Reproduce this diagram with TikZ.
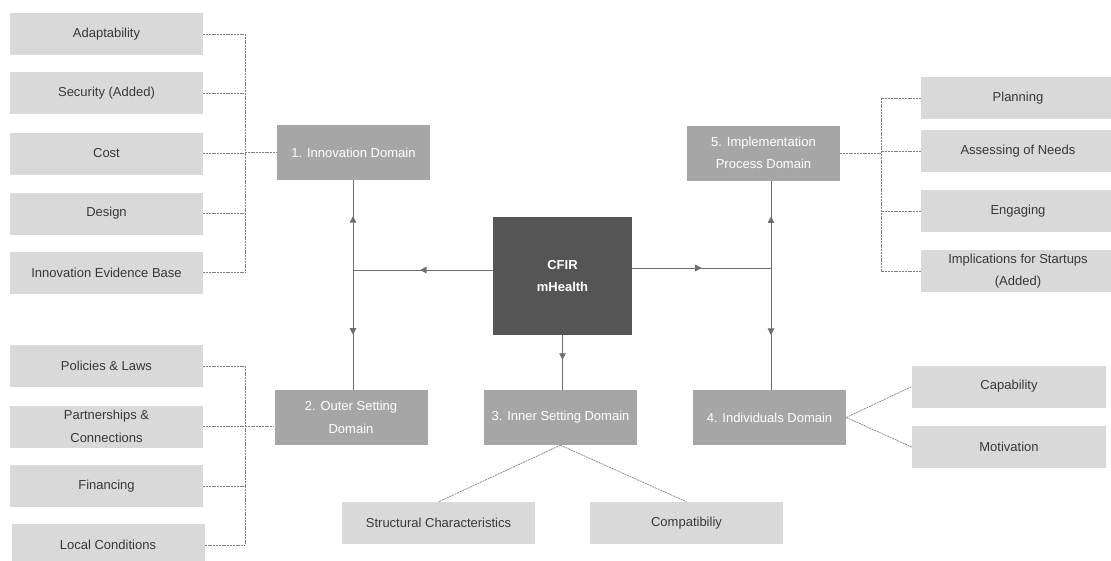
\documentclass[tikz,border=0pt]{standalone}
\usepackage{fontspec}
\setmainfont{Liberation Sans}
\usetikzlibrary{arrows.meta,decorations.markings}
\definecolor{leaffill}{HTML}{D9D9D9}
\definecolor{domfill}{HTML}{A6A6A6}
\definecolor{corefill}{HTML}{555555}
\definecolor{leaftext}{HTML}{383838}
\definecolor{linecol}{HTML}{6E6E6E}
\definecolor{dashcol}{HTML}{7F7F7F}
\tikzset{
  x=1pt, y=-1pt,
  leaf/.style={fill=leaffill, draw=none, inner sep=0pt, minimum width=193pt, minimum height=42pt,
    text=leaftext, font=\fontsize{13}{22.5}\selectfont, align=center},
  rleaf/.style={leaf, minimum width=194pt},
  dombox/.style={fill=domfill, draw=none, inner sep=0pt, minimum width=153pt, minimum height=55pt,
    text=white, font=\fontsize{13}{22.5}\selectfont, align=center},
  corebox/.style={fill=corefill, draw=none, inner sep=0pt, minimum width=139pt, minimum height=118pt,
    text=white, font=\bfseries\fontsize{13}{22.5}\selectfont, align=center},
  conn/.style={draw=linecol, line width=0.9pt},
  dotline/.style={draw=dashcol, line width=0.7pt, dash pattern=on 2pt off 0.8pt},
  tipat/.style={postaction={decorate, decoration={markings,
    mark=at position #1 with {\arrow{Triangle[length=6.5pt,width=6.5pt]}}}}},
}
\begin{document}
\begin{tikzpicture}
\useasboundingbox (0,0) rectangle (1111,560);
\clip (0,0) rectangle (1111,560);

% central node and the five domains
\node[corebox] (cfir) at (562.5,276) {CFIR\\mHealth};
\node[dombox] (innov) at (353.5,152.5) {1. Innovation Domain};
\node[dombox] (outer) at (351,417.5) {2. Outer Setting\\Domain};
\node[dombox] (inner) at (560.5,417.5) {3. Inner Setting Domain};
\node[dombox] (indiv) at (769.5,417.5) {4. Individuals Domain};
\node[dombox] (impl) at (763.5,153) {5. Implementation\\Process Domain};

% innovation constructs
\node[leaf] (adapt) at (106.5,34) {Adaptability};
\node[leaf] (secur) at (106.5,93) {Security (Added)};
\node[leaf] (cost)  at (106.5,153.5) {Cost};
\node[leaf] (design) at (106.5,213.5) {Design};
\node[leaf] (evid)  at (106.5,272.5) {Innovation Evidence Base};

% outer setting constructs
\node[leaf] (policy) at (106.5,366) {Policies \& Laws};
\node[leaf] (partner) at (106.5,426.5) {Partnerships \&\\Connections};
\node[leaf] (finance) at (106.5,486) {Financing};
\node[leaf] (local) at (108,545) {Local Conditions};

% inner setting constructs
\node[leaf] (struct) at (438.5,523) {Structural Characteristics};
\node[leaf] (compat) at (686.5,523) {Compatibiliy};

% individuals constructs
\node[leaf, minimum width=194pt] (capab) at (1009,386.5) {Capability};
\node[leaf, minimum width=194pt] (motiv) at (1009,447) {Motivation};

% implementation process constructs
\node[rleaf] (plan) at (1018,98) {Planning};
\node[rleaf] (assess) at (1018,151) {Assessing of Needs};
\node[rleaf] (engage) at (1018,211) {Engaging};
\node[rleaf] (startup) at (1018,271) {Implications for Startups\\(Added)};

% junctions of the solid connectors
\coordinate (jl) at (353,270);
\coordinate (jr) at (771,268);
\coordinate (bl) at (245,152.5);
\coordinate (bo) at (245,426.5);
\coordinate (br) at (881,153);

% solid connectors from the core
\draw[conn, tipat=0.52] (cfir.west |- jl) -- (jl);
\draw[conn, tipat=0.6] (jl) -- (jl |- innov.south);
\draw[conn, tipat=0.54] (jl) -- (jl |- outer.north);
\draw[conn, tipat=0.5] (cfir.east |- jr) -- (jr);
\draw[conn, tipat=0.59] (jr) -- (jr |- impl.south);
\draw[conn, tipat=0.55] (jr) -- (jr |- indiv.north);
\draw[conn, tipat=0.45] (cfir.south) -- (cfir.south |- inner.north);

% innovation bracket
\foreach \n in {adapt,secur,cost,design,evid}
  \draw[dotline] (\n.east) -- (\n.east -| bl);
\draw[dotline] (adapt.east -| bl) -- (evid.east -| bl);
\draw[dotline] (bl) -- (innov.west);

% outer setting bracket
\foreach \n in {policy,partner,finance,local}
  \draw[dotline] (\n.east) -- (\n.east -| bo);
\draw[dotline] (policy.east -| bo) -- (local.east -| bo);
\draw[dotline] (bo) -- (outer.west |- bo);

% implementation bracket
\foreach \n in {plan,assess,engage,startup}
  \draw[dotline] (\n.west) -- (\n.west -| br);
\draw[dotline] (plan.west -| br) -- (startup.west -| br);
\draw[dotline] (impl.east) -- (br);

% inner setting and individuals branches
\draw[dotline] (inner.south) -- (struct.north);
\draw[dotline] (inner.south) -- (compat.north);
\draw[dotline] (indiv.east) -- (capab.west);
\draw[dotline] (indiv.east) -- (motiv.west);
\end{tikzpicture}
\end{document}
